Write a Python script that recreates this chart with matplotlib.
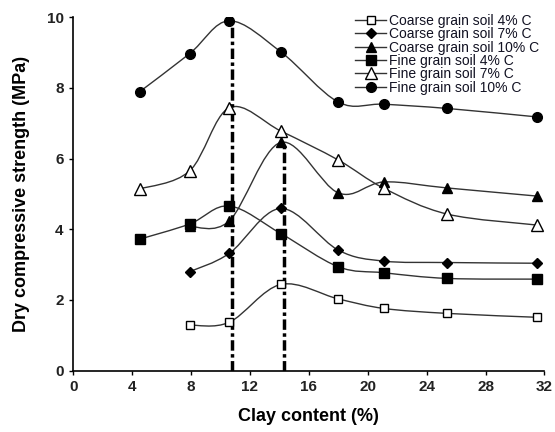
import numpy as np
import matplotlib
matplotlib.use("Agg")
import matplotlib.pyplot as plt
from matplotlib.path import Path
from matplotlib.patches import PathPatch

plt.rcParams['font.family'] = ['Liberation Sans', 'DejaVu Sans']

# Data
x_coarse = [7.9, 10.6, 14.1, 18.0, 21.1, 25.4, 31.5]
x_fine = [4.5, 7.9, 10.6, 14.1, 18.0, 21.1, 25.4, 31.5]

coarse_4 = [1.29, 1.37, 2.44, 2.03, 1.76, 1.62, 1.51]
coarse_7 = [2.80, 3.32, 4.59, 3.41, 3.10, 3.06, 3.04]
coarse_10 = [4.08, 4.24, 6.46, 5.03, 5.34, 5.17, 4.94]
fine_4 = [3.72, 4.15, 4.66, 3.88, 2.94, 2.77, 2.61, 2.59]
fine_7 = [5.14, 5.65, 7.44, 6.78, 5.96, 5.16, 4.43, 4.12]
fine_10 = [7.89, 8.97, 9.90, 9.02, 7.60, 7.54, 7.42, 7.18]

labels = ["Coarse grain soil 4% C", "Coarse grain soil 7% C", "Coarse grain soil 10% C",
          "Fine grain soil 4% C", "Fine grain soil 7% C", "Fine grain soil 10% C"]

peak_lines_x = [10.8, 14.3]
peak_lines_top = [9.9, 6.46]

x_ticks = [0, 4, 8, 12, 16, 20, 24, 28, 32]
y_ticks = [0, 2, 4, 6, 8, 10]

series = [
    (x_coarse, coarse_4, dict(marker='s', mfc='white', mec='black', ms=5.5, mew=1.0)),
    (x_coarse, coarse_7, dict(marker='D', mfc='black', mec='black', ms=5.5)),
    (x_coarse, coarse_10, dict(marker='^', mfc='black', mec='black', ms=6.5)),
    (x_fine, fine_4, dict(marker='s', mfc='black', mec='black', ms=7)),
    (x_fine, fine_7, dict(marker='^', mfc='white', mec='black', ms=8, mew=1.0)),
    (x_fine, fine_10, dict(marker='o', mfc='black', mec='black', ms=7)),
]


def smooth_path(xs, ys):
    p = np.column_stack([xs, ys]).astype(float)
    n = len(p)
    verts = [p[0]]
    codes = [Path.MOVETO]
    for i in range(n - 1):
        p0 = p[i - 1] if i > 0 else p[i]
        p1 = p[i]
        p2 = p[i + 1]
        p3 = p[i + 2] if i + 2 < n else p[i + 1]
        c1 = p1 + (p2 - p0) / 6.0
        c2 = p2 - (p3 - p1) / 6.0
        verts += [c1, c2, p2]
        codes += [Path.CURVE4] * 3
    return Path(verts, codes)


fig = plt.figure(figsize=(5.55, 4.32), dpi=100)
ax = fig.add_axes([0.132, 0.142, 0.849, 0.818])

for xs, ys, st in series:
    patch = PathPatch(smooth_path(xs, ys), facecolor='none', edgecolor='#333333', lw=1.0, zorder=2)
    ax.add_patch(patch)

for xs, ys, st in series:
    ax.plot(xs, ys, linestyle='none', zorder=4, **st)

for xv, top in zip(peak_lines_x, peak_lines_top):
    ax.plot([xv, xv], [0, top], color='black', lw=2.5, linestyle=(0, (3, 1, 1, 1)), zorder=3)

# legend proxies with line + marker
proxies = []
for (xs, ys, st), lab in zip(series, labels):
    pr, = ax.plot([], [], color='#333333', lw=1.0, label=lab, **st)
    proxies.append(pr)
leg = ax.legend(handles=proxies, loc='upper right', bbox_to_anchor=(1.0, 1.025), frameon=False,
                fontsize=10, handlelength=2.2, handletextpad=0.2, labelspacing=-0.05,
                borderaxespad=0.0)
for t in leg.get_texts():
    t.set_color('#111122')

ax.set_xlim(0, 32)
ax.set_ylim(0, 10)
ax.set_xticks(x_ticks)
ax.set_yticks(y_ticks)
for s in ['top', 'right']:
    ax.spines[s].set_visible(False)
for s in ['left', 'bottom']:
    ax.spines[s].set_linewidth(1.2)
ax.tick_params(direction='out', length=3, width=1, labelsize=11, pad=4)
for lbl in ax.get_xticklabels() + ax.get_yticklabels():
    lbl.set_fontweight('bold')
    lbl.set_color('#222222')

ax.set_xlabel('Clay content (%)', fontsize=13, fontweight='bold', labelpad=10)
ax.set_ylabel('Dry compressive strength (MPa)', fontsize=13, fontweight='bold', labelpad=12)

fig.savefig('out.png', dpi=100)
